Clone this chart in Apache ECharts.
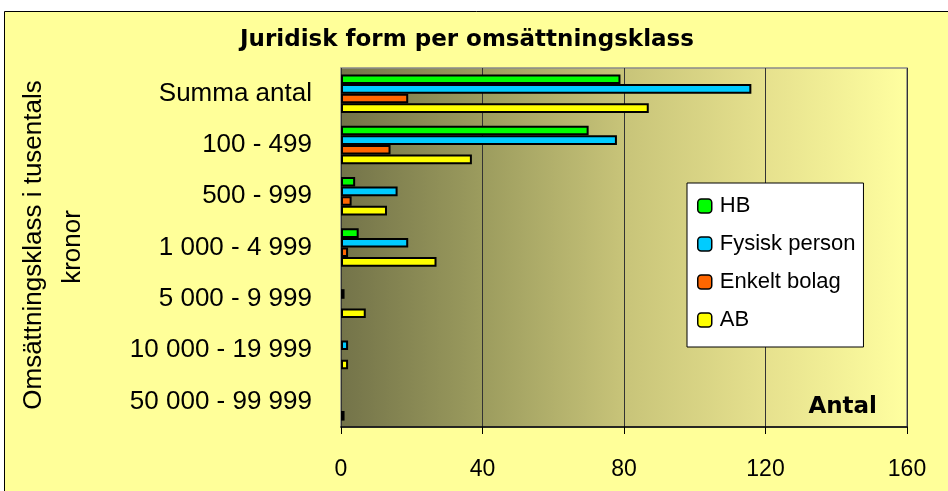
<!DOCTYPE html>
<html><head><meta charset="utf-8">
<script src="https://cdn.jsdelivr.net/npm/echarts@6/dist/echarts.min.js"></script>
<style>html,body{margin:0;padding:0;background:#fff}#c{width:948px;height:491px}</style>
</head><body><div id="c"></div>
<script>
const categories = ['Summa antal','100 - 499','500 - 999','1 000 - 4 999','5 000 - 9 999','10 000 - 19 999','50 000 - 99 999'];
const seriesNames = ['HB','Fysisk person','Enkelt bolag','AB'];
const hb      = [79, 70, 4, 5, null, null, null];
const fysisk  = [116, 78, 16, 19, 1, 2, null];
const enkelt  = [19, 14, 3, 2, null, null, null];
const ab      = [87, 37, 13, 27, 7, 2, 1];
const xTicks = [0, 40, 80, 120, 160];
const colors = ['#00FF00','#00CCFF','#FF6600','#FFFF00'];
const values = [hb, fysisk, enkelt, ab];

const chart = echarts.init(document.getElementById('c'), null, {renderer:'canvas'});
const F = 'Liberation Sans, Arial, sans-serif';
chart.setOption({
  animation: false,
  backgroundColor: '#fff',
  title: {
    text: 'Juridisk form per omsättningsklass',
    left: 462, top: 24, textAlign: 'center',
    textStyle: {fontFamily: 'DejaVu Sans', fontWeight: 'bold', fontSize: 23, color: '#000'}
  },
  graphic: [
    {type:'rect', z:-10, shape:{x:4.5,y:11.5,width:1000,height:600}, style:{fill:'#FFFF99', stroke:'#000', lineWidth:1}},
    {type:'text', z:10, x:34, y:245, rotation:Math.PI/2, style:{text:'Omsättningsklass i tusentals', font:'26px '+F, fill:'#000', align:'center', verticalAlign:'middle'}},
    {type:'text', z:10, x:73, y:247, rotation:Math.PI/2, style:{text:'kronor', font:'26px '+F, fill:'#000', align:'center', verticalAlign:'middle'}},
    {type:'text', z:10, x:877, y:407, style:{text:'Antal', font:'bold 23px DejaVu Sans', fill:'#000', align:'right', verticalAlign:'middle'}}
  ],
  legend: {
    orient: 'vertical', left: 687, top: 183,
    data: seriesNames,
    backgroundColor: '#fff', borderColor: '#000', borderWidth: 1,
    padding: [12, 8, 16, 10],
    itemWidth: 14, itemHeight: 14, itemGap: 16,
    itemStyle: {borderColor: '#000', borderWidth: 1.5},
    textStyle: {fontFamily: F, fontSize: 22, color: '#000', lineHeight: 22, padding: [0,0,0,3]}
  },
  grid: {
    left: 341, top: 68, right: 41, bottom: 64, show: true,
    borderColor: '#8a8a8a', borderWidth: 1.5,
    backgroundColor: {type:'linear', x:0, y:0, x2:1, y2:0, colorStops:[
      {offset:0, color:'#737349'}, {offset:0.25, color:'#9C9C5E'}, {offset:0.5, color:'#C8C479'},
      {offset:0.75, color:'#E6E18E'}, {offset:1, color:'#FFFFA0'}]}
  },
  xAxis: {
    type: 'value', min: xTicks[0], max: xTicks[xTicks.length-1], interval: 40,
    axisLine: {show: true, lineStyle: {color: '#000', width: 1.5}},
    axisTick: {show: true, length: 7, lineStyle: {color: '#000'}},
    axisLabel: {fontFamily: F, fontSize: 23, color: '#000', margin: 31},
    splitLine: {show: true, lineStyle: {color: '#333', width: 1}}
  },
  yAxis: {
    type: 'category', data: categories, inverse: true,
    axisLine: {show: false}, axisTick: {show: false},
    axisLabel: {fontFamily: F, fontSize: 26, color: '#000', margin: 29}
  },
  series: seriesNames.map((n, i) => ({
    name: n, type: 'bar', data: values[i],
    barGap: '0%', barCategoryGap: '25%',
    itemStyle: {color: colors[i], borderColor: '#000', borderWidth: 2}
  }))
});
</script></body></html>
